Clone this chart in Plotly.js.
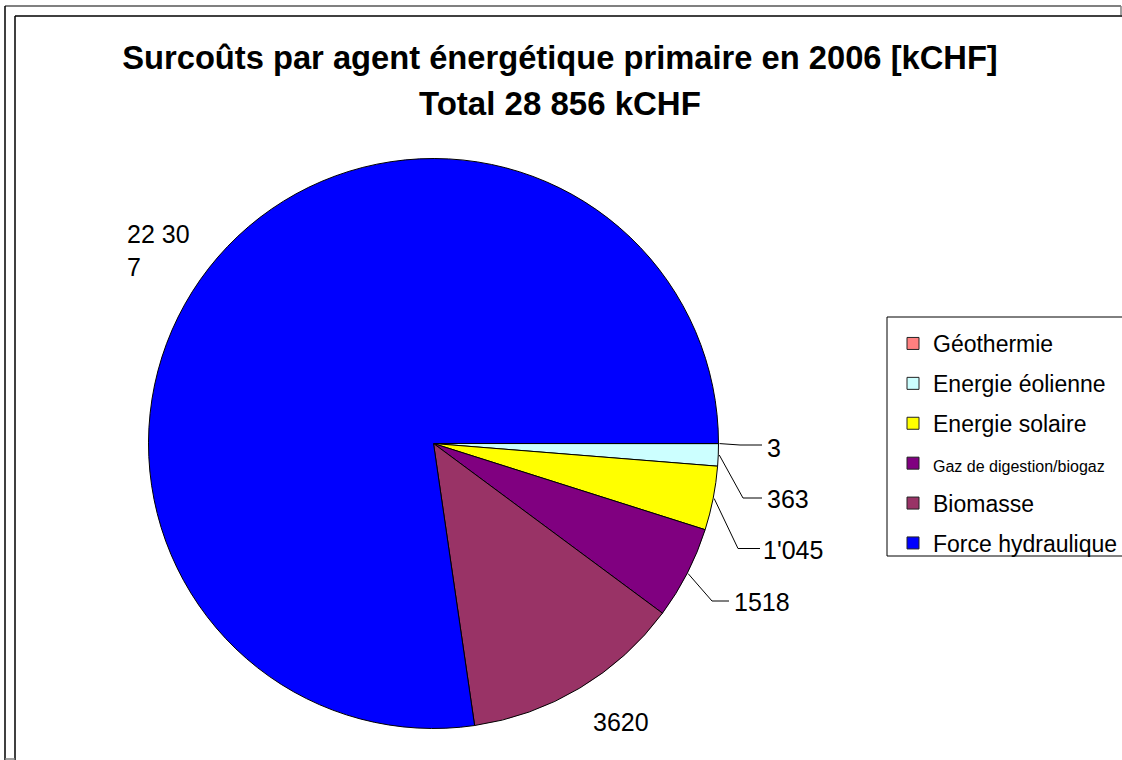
<!DOCTYPE html>
<html><head><meta charset="utf-8">
<script src="https://cdn.plot.ly/plotly-3.0.1.min.js"></script>
<style>html,body{margin:0;padding:0;background:#fff}#chart{width:1122px;height:760px}</style>
</head><body><div id="chart"></div>
<script>
// ---- data ----
const categories = ['Géothermie', 'Energie éolienne', 'Energie solaire', 'Gaz de digestion/biogaz', 'Biomasse', 'Force hydraulique'];
const values = [3, 363, 1045, 1518, 3620, 22307];
const valueLabels = ['3', '363', "1'045", '1518', '3620', '22 30<br>7'];
const titleText = 'Surcoûts par agent énergétique primaire en 2006 [kCHF]';
const totalPrefix = 'Total ';
const totalUnit = ' kCHF';

// ---- styles / layout constants ----
const colors = ['#FF8080', '#CCFFFF', '#FFFF00', '#800080', '#993366', '#0000FF'];
const FONT = 'Liberation Sans, Arial, sans-serif';
const W = 1122, H = 760;
const px = x => x / W, py = y => 1 - y / H;
const cx = 433.5, cy = 443.5, R = 285;
const legendSmall = {3: 16};
const labelPlace = [
  {x: 765, y: 448, leader: {ex: 740, ey: 445, endX: 762}},
  {x: 765, y: 499, leader: {ex: 743, ey: 498, endX: 762}},
  {x: 761, y: 550, leader: {ex: 738, ey: 548.5, endX: 760}},
  {x: 732, y: 602, leader: {ex: 712, ey: 601, endX: 729}},
  {x: 591, y: 722, leader: null},
  {x: 125, y: 250, leader: null}
];

const total = values.reduce((a, b) => a + b, 0);
const totalStr = String(total).replace(/\B(?=(\d{3})+(?!\d))/g, ' ');

const traces = [{
  type: 'pie',
  labels: categories,
  values: values,
  sort: false,
  direction: 'clockwise',
  rotation: 90,
  textinfo: 'none',
  hoverinfo: 'skip',
  showlegend: false,
  marker: {colors: colors, line: {color: '#000', width: 1}},
  domain: {x: [px(cx - R), px(cx + R)], y: [py(cy + R), py(cy - R)]}
}];

categories.forEach((c, i) => {
  traces.push({
    type: 'scatter', x: [null], y: [null], mode: 'markers',
    name: legendSmall[i] ? '<span style="font-size:' + legendSmall[i] + 'px">' + c + '</span>' : c,
    legendgroup: 'g' + i,
    hoverinfo: 'skip',
    marker: {symbol: 'square', size: 12, color: colors[i], line: {color: '#222', width: 1}}
  });
});

// label annotations and leader lines derived from slice angles
const annotations = [];
const shapes = [];
let cum = 0;
values.forEach((v, i) => {
  const mid = (cum + v / 2) / total * 2 * Math.PI;
  cum += v;
  const p = labelPlace[i];
  annotations.push({
    xref: 'paper', yref: 'paper', x: px(p.x), y: py(p.y),
    xanchor: 'left', yanchor: 'middle', align: 'left', showarrow: false,
    text: valueLabels[i], font: {family: FONT, size: 25, color: '#000'}
  });
  if (p.leader) {
    const sx = cx + (R + 1) * Math.cos(mid), sy = cy + (R + 1) * Math.sin(mid);
    const L = p.leader;
    shapes.push({
      type: 'path', xref: 'paper', yref: 'paper',
      path: 'M' + px(sx) + ',' + py(sy) + ' L' + px(L.ex) + ',' + py(L.ey) + ' L' + px(L.endX) + ',' + py(L.ey),
      line: {color: '#000', width: 1}
    });
  }
});

annotations.push({
  xref: 'paper', yref: 'paper', x: px(560), y: py(104), xanchor: 'center', yanchor: 'middle',
  showarrow: false, text: totalPrefix + totalStr + totalUnit,
  font: {family: FONT, size: 33, color: '#000', weight: 'bold'}
});

// frame
const line = (x0, y0, x1, y1, color, width) => ({type: 'line', xref: 'paper', yref: 'paper',
  x0: px(x0), y0: py(y0), x1: px(x1), y1: py(y1), line: {color: color, width: width}});
shapes.push(line(5, 6, 1121, 6, '#808080', 2));
shapes.push(line(5, 6, 5, 760, '#000', 1.5));
shapes.push(line(1121, 6, 1121, 16, '#808080', 1.5));
shapes.push(line(15, 16, 1122, 16, '#404040', 2));
shapes.push(line(15, 16, 15, 760, '#000', 1.5));
shapes.push(line(5, 759, 15, 759, '#808080', 1.5));
// legend frame
shapes.push({type: 'rect', xref: 'paper', yref: 'paper', x0: px(887), y0: py(317), x1: px(1130), y1: py(556),
  line: {color: '#000', width: 1}, fillcolor: 'rgba(0,0,0,0)'});

const layout = {
  width: W, height: H,
  margin: {l: 0, r: 0, t: 0, b: 0, pad: 0, autoexpand: false},
  paper_bgcolor: '#fff', plot_bgcolor: '#fff',
  xaxis: {visible: false}, yaxis: {visible: false},
  title: {
    text: titleText, x: 560 / W, xanchor: 'center', y: 1 - 58 / H, yanchor: 'middle',
    font: {family: FONT, size: 32.7, color: '#000', weight: 'bold'}
  },
  showlegend: true,
  legend: {
    x: px(893), y: py(322), xanchor: 'left', yanchor: 'top',
    bgcolor: 'rgba(0,0,0,0)', borderwidth: 0,
    font: {family: FONT, size: 23, color: '#000'},
    tracegroupgap: 7, traceorder: 'grouped'
  },
  annotations: annotations,
  shapes: shapes
};

Plotly.newPlot('chart', traces, layout, {displayModeBar: false, staticPlot: true});
</script></body></html>
